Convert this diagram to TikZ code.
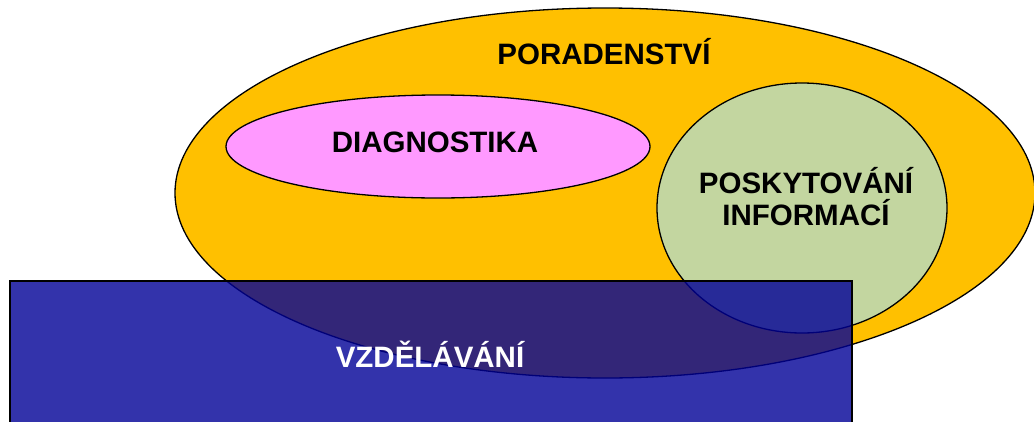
\documentclass[tikz,border=0pt]{standalone}
\usepackage{fontspec}
\setmainfont{Liberation Sans}
\definecolor{orangeF}{RGB}{255,192,0}
\definecolor{pinkF}{RGB}{255,153,255}
\definecolor{greenF}{RGB}{195,214,160}
\definecolor{blueF}{RGB}{0,0,150}
\begin{document}
\begin{tikzpicture}[x=1pt,y=-1pt,
  shapeline/.style={draw=black,line width=1.3pt},
  lbl/.style={font=\fontsize{29.5}{32}\selectfont\bfseries,align=center,inner sep=0pt}]
\useasboundingbox (0,0) rectangle (1034,421);
\begin{scope}
\clip (0,0) rectangle (1034,421);
\fill[white] (0,0) rectangle (1034,421);
\draw[shapeline,fill=orangeF] (605,193) ellipse [x radius=430,y radius=185];
\draw[shapeline,fill=pinkF] (438,146.5) ellipse [x radius=212,y radius=51.5];
\draw[shapeline,fill=greenF] (802,208) ellipse [x radius=145,y radius=125];
\draw[shapeline,fill=blueF,fill opacity=0.8] (10,281) rectangle (852,440);
\end{scope}
\node[lbl] (por) at (604,52) {PORADENSTVÍ};
\node[lbl] (dia) at (435,142) {DIAGNOSTIKA};
\node[lbl] (pos) at (806,197) {POSKYTOVÁNÍ\\INFORMACÍ};
\node[lbl,text=white] (vzd) at (430,354) {VZDĚLÁVÁNÍ};
\end{tikzpicture}
\end{document}
